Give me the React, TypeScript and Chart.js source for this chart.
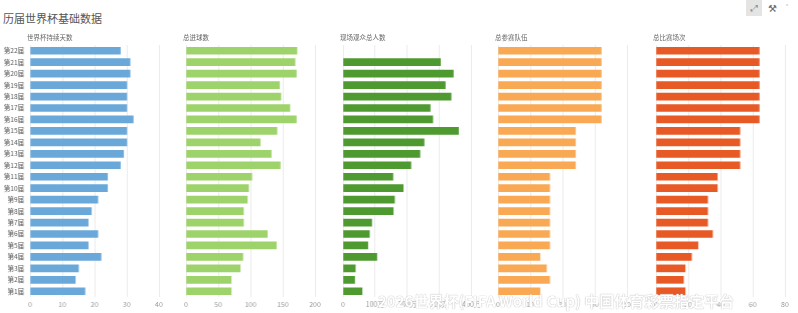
import React, { useEffect, useRef } from "react";
import { Chart, registerables } from "chart.js";

Chart.register(...registerables);

const FONT = "'Noto Sans CJK SC', 'Noto Sans', sans-serif";

const categories = [
  "第1届", "第2届", "第3届", "第4届", "第5届", "第6届", "第7届", "第8届", "第9届", "第10届", "第11届",
  "第12届", "第13届", "第14届", "第15届", "第16届", "第17届", "第18届", "第19届", "第20届", "第21届", "第22届",
];

const durationDays = [17, 14, 15, 22, 18, 21, 18, 19, 21, 24, 24, 28, 29, 30, 30, 32, 30, 30, 30, 31, 31, 28];
const totalGoals = [70, 70, 84, 88, 140, 126, 89, 89, 95, 97, 102, 146, 132, 115, 141, 171, 161, 147, 145, 171, 169, 172];
const attendanceWan = [59, 36, 38, 105, 77, 82, 89, 156, 160, 187, 155, 211, 239, 252, 359, 279, 271, 336, 318, 343, 303, null];
const teamCount = [13, 16, 15, 13, 16, 16, 16, 16, 16, 16, 16, 24, 24, 24, 24, 32, 32, 32, 32, 32, 32, 32];
const matchCount = [18, 17, 18, 22, 26, 35, 32, 32, 32, 38, 38, 52, 52, 52, 52, 64, 64, 64, 64, 64, 64, 64];

const panelTitles = ["世界杯持续天数", "总进球数", "现场观众总人数", "总参赛队伍", "总比赛场次"];
const panelMax = [40, 200, 400, 40, 80];
const panelStep = [10, 50, 100, 10, 20];
const panelUnit = ["", "", "万", "", ""];
const panelColors = ["#6aa8da", "#9dd36a", "#4e9a30", "#f9a853", "#e75a26"];
const panelData = [durationDays, totalGoals, attendanceWan, teamCount, matchCount];

const chartLeft = [30, 186, 343, 498, 656];
const chartWidth = 128.5;
const H = 313;

function Panel({ idx }: { idx: number }) {
  const ref = useRef<HTMLCanvasElement | null>(null);
  const first = idx === 0;
  const padL = first ? 0 : 10;
  const padR = 12;
  const yW = first ? 30 : 0;
  const left = first ? 0 : chartLeft[idx] - padL;
  const width = yW + padL + chartWidth + padR;

  useEffect(() => {
    if (!ref.current) return;
    const unit = panelUnit[idx];
    const chart = new Chart(ref.current, {
      type: "bar",
      data: {
        labels: categories,
        datasets: [
          {
            data: panelData[idx] as any,
            backgroundColor: panelColors[idx],
            borderWidth: 0,
            barThickness: 7,
          },
        ],
      },
      options: {
        indexAxis: "y",
        animation: false,
        responsive: false,
        maintainAspectRatio: false,
        layout: { padding: { top: 45, left: padL, right: padR, bottom: 0 } },
        plugins: { legend: { display: false }, tooltip: { enabled: false } },
        scales: {
          x: {
            min: 0,
            max: panelMax[idx],
            ticks: {
              stepSize: panelStep[idx],
              color: "#999",
              font: { size: 7, family: FONT },
              padding: 3,
              maxRotation: 0,
              callback: (v: any) => (Number(v) === 0 ? "0" : `${v}${unit}`),
            },
            grid: { color: "#ebebeb", drawTicks: false, lineWidth: 1 },
            border: { display: false },
            afterFit: (s: any) => {
              s.height = 16;
            },
          },
          y: {
            display: first,
            reverse: true,
            ticks: {
              color: "#555",
              font: { size: 6.5, family: FONT },
              padding: 6,
              autoSkip: false,
            },
            grid: { display: false, drawTicks: false },
            border: { display: false },
            afterFit: (s: any) => {
              s.width = yW;
            },
          },
        },
      },
    });
    return () => chart.destroy();
  }, [idx]);

  return (
    <>
      <canvas
        ref={ref}
        width={width}
        height={H}
        style={{ position: "absolute", left, top: 0, width, height: H }}
      />
      <div
        style={{
          position: "absolute",
          left: chartLeft[idx] - 3,
          top: 33,
          fontSize: 6.5,
          color: "#666",
          fontFamily: FONT,
          whiteSpace: "nowrap",
          lineHeight: "9px",
        }}
      >
        {panelTitles[idx]}
      </div>
    </>
  );
}

export default function App() {
  return (
    <div
      style={{
        position: "absolute",
        left: 0,
        top: 0,
        width: 798,
        height: H,
        background: "#fff",
        overflow: "hidden",
        fontFamily: FONT,
      }}
    >
      <div
        style={{
          position: "absolute",
          left: 3,
          top: 11,
          fontSize: 11,
          lineHeight: "15px",
          color: "#555",
          whiteSpace: "nowrap",
        }}
      >
        历届世界杯基础数据
      </div>
      <div
        style={{
          position: "absolute",
          left: 746,
          top: 0,
          width: 16,
          height: 16,
          background: "#e4e4e4",
          color: "#888",
          fontSize: 9,
          lineHeight: "16px",
          textAlign: "center",
        }}
      >
        ⤢
      </div>
      <div
        style={{
          position: "absolute",
          left: 768,
          top: 0,
          fontSize: 10,
          lineHeight: "16px",
          color: "#666",
        }}
      >
        ⚒
      </div>
      <div
        style={{
          position: "absolute",
          left: 786,
          top: 0,
          fontSize: 8,
          lineHeight: "16px",
          color: "#999",
        }}
      >
        ˅
      </div>
      {[0, 1, 2, 3, 4].map((i) => (
        <Panel key={i} idx={i} />
      ))}
      <div
        style={{
          position: "absolute",
          left: 378,
          top: 292,
          fontSize: 15,
          lineHeight: "18px",
          fontWeight: "bold",
          color: "#fff",
          whiteSpace: "nowrap",
          textShadow: "0 0 1px #bbb, 0 0 1px #bbb",
        }}
      >
        2026世界杯(FIFA World Cup) 中国体育彩票指定平台
      </div>
    </div>
  );
}
